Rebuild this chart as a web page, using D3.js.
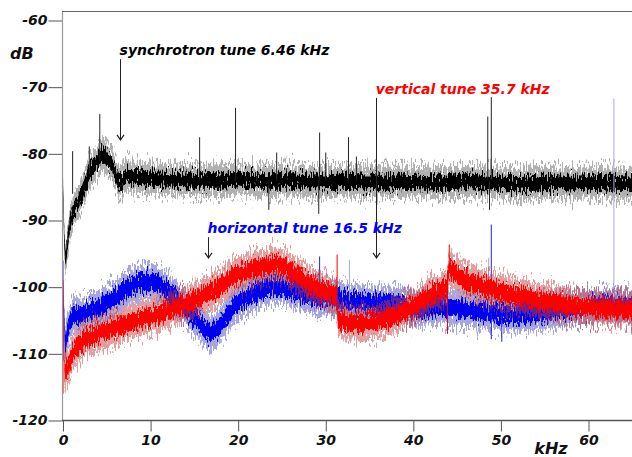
<!DOCTYPE html>
<html>
<meta charset="utf-8">
<style>
body { margin: 0; background: #fff; }
text { font-family: "DejaVu Sans", Verdana, sans-serif; font-weight: bold; font-style: italic; }
</style>
<script src="https://d3js.org/d3.v7.min.js"></script>
<body>
<script>
var svgWidth = 632, svgHeight = 457;

// axis ticks
var xTicks = [0, 10, 20, 30, 40, 50, 60];
var yTicks = [-60, -70, -80, -90, -100, -110, -120];

// spectra (kHz, dB at the middle of the noise band)
var blackKhz = [0, 0.15, 0.3, 0.5, 0.8, 1.2, 1.8, 2.3, 3.1, 3.8, 4.4, 5.0, 5.6, 6.0, 6.4, 6.8, 7.3, 8, 10, 12, 14, 16, 18, 20, 22, 24, 26, 28, 30, 32, 34, 36, 38, 40, 42, 44, 46, 48, 50, 52, 54, 56, 58, 60, 62, 65];
var blackDb  = [-85.5, -93, -96, -93.5, -90.5, -88.4, -87, -85.4, -82.6, -81.3, -80.1, -80.6, -81.6, -83, -84.5, -84, -83.1, -83.5, -83.7, -83.8, -83.9, -84, -84, -83.8, -84, -84, -84, -84.2, -84.2, -84, -84.2, -84.2, -84.2, -84.2, -84.3, -84.4, -84.2, -84.2, -84.3, -84.6, -84.4, -84.3, -84.4, -84.3, -84.4, -84.5];

var redKhz = [0.05, 0.2, 0.5, 1.2, 2.3, 4.2, 6.1, 8, 9.9, 11.8, 13.7, 15.6, 17.9, 19.4, 21.3, 23.2, 24.4, 25.5, 27.1, 28.2, 29.3, 30.9, 31.2, 31.4, 32.8, 34.7, 36.5, 38.5, 40.4, 41.9, 43.8, 44.1, 45.3, 47.2, 49, 51, 52.9, 54.8, 56.7, 58.6, 60.5, 62.4, 65];
var redDb  = [-106, -113, -112.3, -109.6, -107.9, -106.9, -106, -105.1, -104.5, -103.6, -102.7, -101.6, -100, -98.4, -97.4, -96.9, -96.5, -97.1, -98.6, -99.6, -100.3, -101.1, -101.2, -104.8, -105.4, -105.4, -104.9, -103.9, -102.6, -101.1, -100.1, -97, -98.6, -99.6, -100.3, -101.1, -101.6, -102.1, -102.5, -102.8, -103.1, -103.3, -103.3];

var blueKhz = [0.05, 0.25, 0.6, 1.2, 2, 3, 4.2, 5.2, 6.2, 7.2, 8, 9, 9.9, 10.8, 11.8, 12.8, 13.7, 14.6, 15.6, 16.3, 16.8, 17.4, 17.9, 18.6, 19.4, 20.3, 21.3, 22.2, 23.2, 24.2, 25.1, 26.1, 27.1, 28, 29, 30.9, 32.8, 34.7, 36.6, 38.5, 39.6, 41.5, 43.4, 45.3, 47.2, 49, 51, 52.9, 54.8, 56.7, 58.6, 60.5, 62.4, 65];
var blueDb  = [-102, -109, -106, -104, -104.2, -103.6, -103, -102.2, -101.3, -100.3, -99.6, -99.2, -99.1, -99.4, -100.3, -101.5, -102.8, -104.2, -105.3, -106.4, -106.8, -106.5, -105.8, -104.5, -103.1, -102.1, -101.3, -100.6, -100.1, -99.9, -100.1, -100.4, -100.8, -101.2, -101.6, -101.6, -102, -102.3, -102.4, -102.6, -103.3, -103.2, -103, -103.3, -103.6, -103.8, -104.1, -104, -103.8, -103.4, -103.1, -102.8, -102.6, -102.8];

// single lines sticking out of the noise: [kHz, from dB, to dB]
var blackSpikes = [[1.1, -86, -79.6], [3.0, -83, -78.9], [4.2, -81, -74.0], [15.6, -84, -77.5], [19.7, -84, -73.1], [23.5, -84, -88.4], [24.4, -84, -79.8], [29.2, -84, -89], [29.3, -84, -76.8], [30.0, -84, -79.8], [32.6, -84, -77.5], [33.5, -84, -80.4], [48.5, -84, -74.4], [48.7, -84, -88.4], [48.9, -84, -71.5]];
var blueSpikes  = [[0.0, -96, -111], [29.3, -101.6, -95.4], [48.9, -103.8, -90.6], [48.9, -103.8, -107.8], [50.1, -104, -108.2]];
var blueFaint   = [[32.7, -102, -95.9], [48.6, -103.8, -95.6], [62.9, -102.6, -71.7]];
var redSpikes   = [[0.0, -99, -116], [31.3, -101, -95.1], [43.9, -100, -107], [44.1, -97, -93.6]];

// annotations
var noteLabels = ["synchrotron tune 6.46 kHz", "vertical tune 35.7 kHz", "horizontal tune 16.5 kHz"];
var noteKhz    = [6.46, 35.7, 16.5];
var noteTextDb = [-65.2, -71.0, -91.9];
var noteTipDb  = [-77.9, -95.6, -95.6];
var noteColors = ["#000", "#ff0000", "#0000ff"];

var svg = d3.select("body").append("svg")
  .attr("width", svgWidth)
  .attr("height", svgHeight);

var x = d3.scaleLinear().domain([0, 60]).range([63, 588.5]);
var y = d3.scaleLinear().domain([-120, -60]).range([420.5, 20.5]);

var defs = svg.append("defs");
defs.append("clipPath").attr("id", "plot")
  .append("rect").attr("x", 62).attr("y", 11).attr("width", svgWidth - 62).attr("height", 410);

// roughens the bands vertically so they read as a noisy trace
function noiseFilter(id, scale, seed) {
  var f = defs.append("filter").attr("id", id)
    .attr("filterUnits", "userSpaceOnUse")
    .attr("x", 0).attr("y", 0).attr("width", svgWidth).attr("height", svgHeight)
    .attr("color-interpolation-filters", "sRGB");
  f.append("feTurbulence").attr("type", "fractalNoise")
    .attr("baseFrequency", "0.8 0.14").attr("numOctaves", 2).attr("seed", seed).attr("result", "t");
  f.append("feColorMatrix").attr("in", "t").attr("type", "matrix")
    .attr("values", "0 0 0 0 0.5  0 1 0 0 0  0 0 1 0 0  0 0 0 0 1").attr("result", "m");
  f.append("feDisplacementMap").attr("in", "SourceGraphic").attr("in2", "m")
    .attr("scale", scale).attr("xChannelSelector", "R").attr("yChannelSelector", "G");
}
noiseFilter("nOuter", 36, 4);
noiseFilter("nInner", 22, 9);

var plot = svg.append("g").attr("clip-path", "url(#plot)");

function band(khz, db, color, fringe, wOuter, wInner) {
  var pts = khz.map(function(k, i) { return [k, db[i]]; });
  var outer = d3.area()
    .x(function(d) { return x(d[0]); })
    .y0(function(d) { return y(d[1] - wOuter); })
    .y1(function(d) { return y(d[1] + wOuter); });
  var inner = d3.area()
    .x(function(d) { return x(d[0]); })
    .y0(function(d) { return y(d[1] - wInner); })
    .y1(function(d) { return y(d[1] + wInner); });
  var g = plot.append("g");
  g.append("path").attr("d", outer(pts)).attr("fill", fringe).attr("opacity", 0.5)
    .attr("filter", "url(#nOuter)");
  g.append("path").attr("d", inner(pts)).attr("fill", color)
    .attr("filter", "url(#nInner)");
}

function spikes(list, color, width) {
  plot.append("g").selectAll("line")
    .data(list)
    .enter()
    .append("line")
    .attr("x1", function(d) { return x(d[0]); })
    .attr("x2", function(d) { return x(d[0]); })
    .attr("y1", function(d) { return y(d[1]); })
    .attr("y2", function(d) { return y(d[2]); })
    .attr("stroke", color)
    .attr("stroke-width", width);
}

band(blackKhz, blackDb, "#000", "#666", 2.4, 1.1);
spikes(blackSpikes, "#222", 1);
band(blueKhz, blueDb, "#0000f0", "#5050c0", 2.6, 1.3);
spikes(blueFaint, "#a8a8d8", 1);
spikes(blueSpikes, "#2020e0", 1);
band(redKhz, redDb, "#ff0000", "#c84040", 2.6, 1.3);
spikes(redSpikes, "#ee0000", 1);

// axes
var yAxis = svg.append("g").attr("transform", "translate(62.5,0)")
  .call(d3.axisLeft(y).tickValues(yTicks).tickSize(14).tickPadding(1)
    .tickFormat(function(d) { return String(d); }));
var xAxis = svg.append("g").attr("transform", "translate(0,420.5)")
  .call(d3.axisBottom(x).tickValues(xTicks).tickSize(11).tickPadding(3.5));
svg.selectAll(".domain").remove();
svg.selectAll(".tick line").attr("stroke", "#555");
svg.selectAll(".tick text").attr("font-size", 14).attr("fill", "#111")
  .style("font-family", "'DejaVu Sans', Verdana, sans-serif");

svg.append("line").attr("x1", 62.5).attr("x2", 62.5).attr("y1", 11).attr("y2", 421)
  .attr("stroke", "#999").attr("stroke-width", 1.2);
svg.append("line").attr("x1", 62).attr("x2", svgWidth).attr("y1", 11.5).attr("y2", 11.5)
  .attr("stroke", "#666");
svg.append("line").attr("x1", 62).attr("x2", svgWidth).attr("y1", 420.5).attr("y2", 420.5)
  .attr("stroke", "#555").attr("stroke-width", 1.3);

svg.append("text").attr("x", 10).attr("y", 59).attr("font-size", 16).attr("fill", "#111").text("dB");
svg.append("text").attr("x", 551).attr("y", 454).attr("text-anchor", "middle")
  .attr("font-size", 16).attr("fill", "#111").text("kHz");

// tune annotations with arrows
var notes = svg.append("g").selectAll("g")
  .data(noteLabels)
  .enter()
  .append("g");

notes.append("text")
  .attr("x", function(d, i) { return x(noteKhz[i]); })
  .attr("y", function(d, i) { return y(noteTextDb[i]); })
  .attr("font-size", 14)
  .attr("fill", function(d, i) { return noteColors[i]; })
  .text(function(d) { return d; });

notes.append("line")
  .attr("x1", function(d, i) { return Math.round(x(noteKhz[i])) + 0.5; })
  .attr("x2", function(d, i) { return Math.round(x(noteKhz[i])) + 0.5; })
  .attr("y1", function(d, i) { return y(noteTextDb[i]) + 4; })
  .attr("y2", function(d, i) { return y(noteTipDb[i]); })
  .attr("stroke", "#222");

notes.append("path")
  .attr("d", function(d, i) {
    var ax = Math.round(x(noteKhz[i])) + 0.5, ay = y(noteTipDb[i]);
    return "M" + (ax - 3.5) + "," + (ay - 5) + "L" + ax + "," + ay + "L" + (ax + 3.5) + "," + (ay - 5);
  })
  .attr("fill", "none")
  .attr("stroke", "#222")
  .attr("stroke-width", 1.2);
</script>
</body>
</html>
